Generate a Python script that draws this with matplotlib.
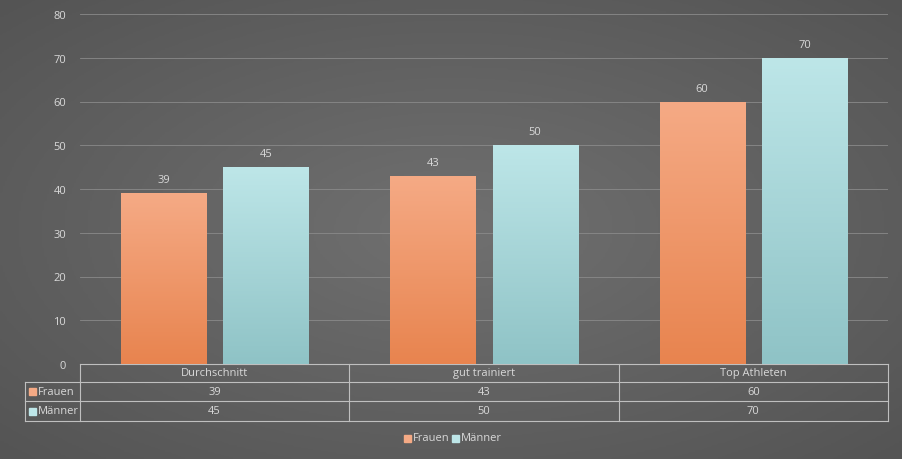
import numpy as np
import matplotlib
matplotlib.use("Agg")
import matplotlib.pyplot as plt
from matplotlib.patches import Rectangle
from matplotlib.colors import LinearSegmentedColormap

categories = ["Durchschnitt", "gut trainiert", "Top Athleten"]
frauen = [39, 43, 60]
maenner = [45, 50, 70]
series_names = ["Frauen", "Männer"]

plt.rcParams['font.family'] = ['Open Sans', 'DejaVu Sans']
txt = "#d9d9d9"
fs = 8
W, H = 903, 460
fig = plt.figure(figsize=(W / 100, H / 100), dpi=100)

# background radial gradient
bg = fig.add_axes([0, 0, 1, 1])
yy, xx = np.mgrid[0:1:200j, 0:1:400j]
r = np.sqrt((xx - 0.5) ** 2 + (yy - 0.5) ** 2)
bg.imshow(r, cmap=LinearSegmentedColormap.from_list("bg", ["#707070", "#545454"]),
          extent=[0, 1, 0, 1], aspect="auto", origin="lower")
bg.set_xlim(0, 1); bg.set_ylim(0, 1); bg.axis("off")

x0, x1, y_top, y_zero = 80, 888, 15, 365
ax = fig.add_axes([x0 / W, 1 - y_zero / H, (x1 - x0) / W, (y_zero - y_top) / H])
ax.patch.set_alpha(0)
ax.set_ylim(0, 80)
ax.set_xlim(-0.5, 2.5)
ax.set_yticks(range(0, 81, 10))
ax.tick_params(axis="y", colors=txt, labelsize=fs, length=0, pad=10)
ax.set_xticks([])
for s in ax.spines.values():
    s.set_visible(False)
ax.grid(axis="y", color="#8a8a8a", linewidth=0.6)
ax.set_axisbelow(True)

grads = [["#e8844f", "#f5aa85"], ["#8fc3c6", "#bde6e8"]]
x = np.arange(len(categories))
bw, off = 0.316, 0.19
grad = np.linspace(0, 1, 100).reshape(-1, 1)
for vals, sign, g in [(frauen, -1, grads[0]), (maenner, 1, grads[1])]:
    bars = ax.bar(x + sign * off, vals, bw, color=g[1], zorder=2)
    cm = LinearSegmentedColormap.from_list("g", g)
    for b, v in zip(bars, vals):
        im = ax.imshow(grad, cmap=cm, origin="lower", aspect="auto", zorder=3,
                       extent=[b.get_x(), b.get_x() + bw, 0, v])
        im.set_clip_path(b)
        ax.text(b.get_x() + bw / 2, v + 1.8, str(v), ha="center", va="bottom",
                color=txt, fontsize=fs)
ax.set_xlim(-0.5, 2.5); ax.set_ylim(0, 80)

# data table
line = dict(color="#bfbfbf", linewidth=0.8)
rows = [365, 383, 402, 422]
tl = 25
bg.plot([x0 / W, x1 / W], [1 - rows[0] / H] * 2, **line)
for ry in rows[1:]:
    bg.plot([tl / W, x1 / W], [1 - ry / H] * 2, **line)
colx = [x0 + i * (x1 - x0) / 3 for i in range(4)]
for cx in colx:
    bg.plot([cx / W] * 2, [1 - rows[0] / H, 1 - rows[-1] / H], **line)
bg.plot([tl / W] * 2, [1 - rows[1] / H, 1 - rows[-1] / H], **line)
for i, c in enumerate(categories):
    bg.text((colx[i] + colx[i + 1]) / 2 / W, 1 - (rows[0] + rows[1]) / 2 / H, c,
            ha="center", va="center", color=txt, fontsize=fs)
for ri, (name, vals, g) in enumerate(zip(series_names, [frauen, maenner], grads)):
    yc = 1 - (rows[ri + 1] + rows[ri + 2]) / 2 / H
    bg.add_patch(Rectangle((29 / W, yc - 3.5 / H), 7 / W, 7 / H, color=g[1]))
    bg.text(38 / W, yc, name, va="center", color=txt, fontsize=fs)
    for i, v in enumerate(vals):
        bg.text((colx[i] + colx[i + 1]) / 2 / W, yc, str(v), ha="center",
                va="center", color=txt, fontsize=fs)

# legend
ly = 1 - 439 / H
for lx, name, g in [(404, series_names[0], grads[0]), (452, series_names[1], grads[1])]:
    bg.add_patch(Rectangle((lx / W, ly - 3.5 / H), 7 / W, 7 / H, color=g[1]))
    bg.text((lx + 9) / W, ly, name, va="center", color=txt, fontsize=fs)

fig.savefig("out.png", dpi=100)
